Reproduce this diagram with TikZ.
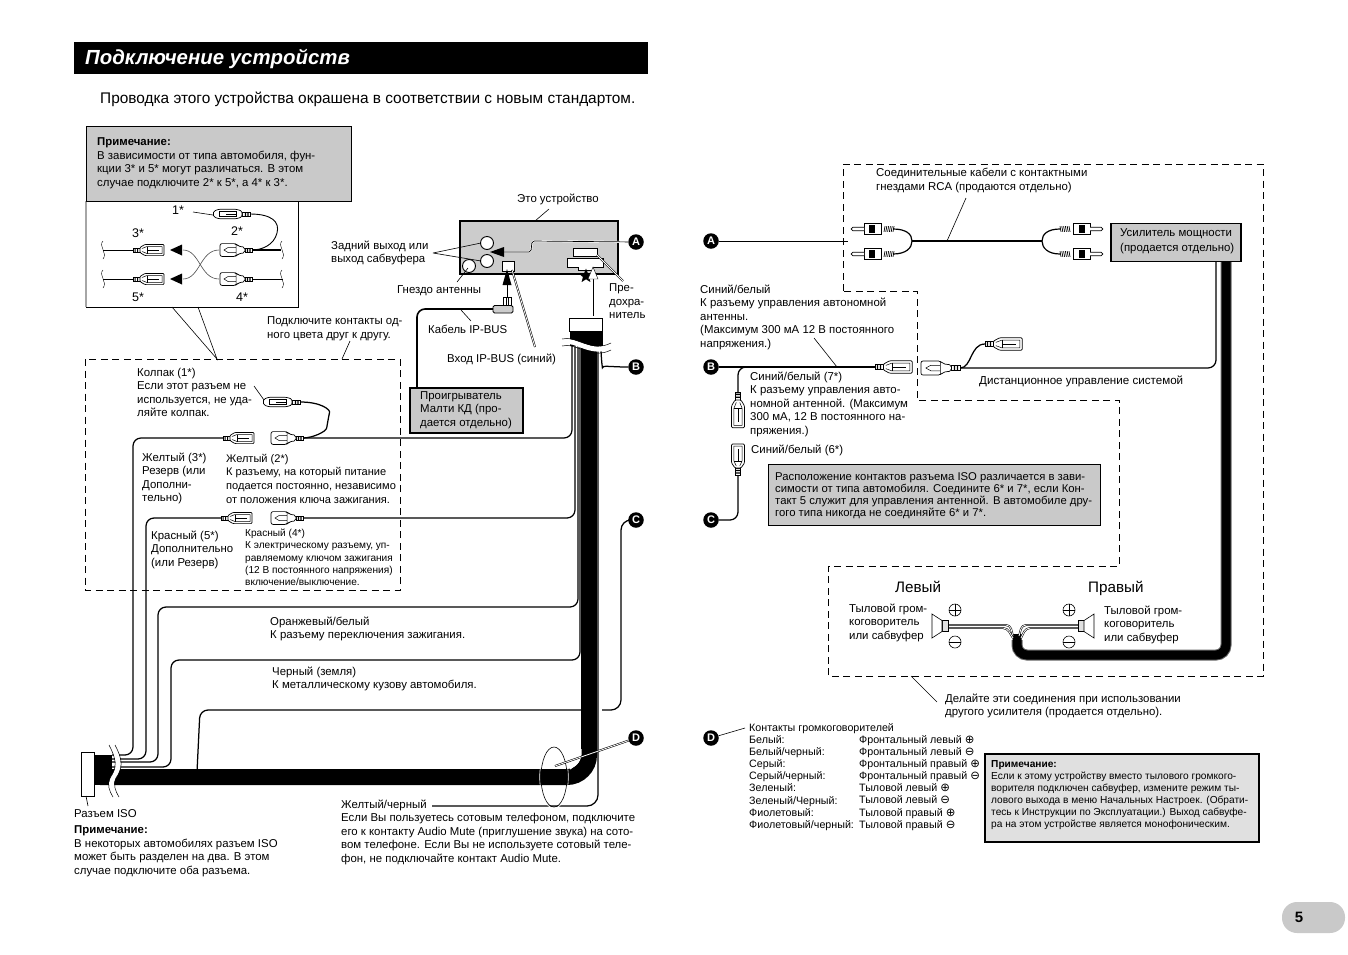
\documentclass[tikz,border=0pt]{standalone}
\usepackage{fontspec}
\setmainfont{Liberation Sans}
\newfontfamily\djv{DejaVu Sans}
\usetikzlibrary{shapes.geometric}
\definecolor{boxgray}{gray}{0.79}
\definecolor{devgray}{gray}{0.80}
\newcommand\Pl{{\djv\fontsize{11.5}{9}\selectfont ⊕}}
\newcommand\Mi{{\djv\fontsize{11.5}{9}\selectfont ⊖}}
\tikzset{
 tm/.style={anchor=north west,align=left,inner sep=0pt,yshift=4.2pt,execute at begin node=\strut,font=\fontsize{11.4}{13.4}\selectfont},
 ts/.style={anchor=north west,align=left,inner sep=0pt,yshift=4pt,execute at begin node=\strut,font=\fontsize{10.1}{12.2}\selectfont},
 thinl/.style={line width=.6pt},
 wire/.style={line width=1.25pt,rounded corners=8pt},
 wireth/.style={line width=1.7pt,rounded corners=8pt},
 dash box/.style={line width=.7pt,dash pattern=on 7pt off 4.5pt},
 halo/.style={double=white,double distance=.8pt,line width=.55pt},
 badge/.style={circle,fill=black,text=white,minimum size=15.5pt,inner sep=0pt,font=\bfseries\fontsize{11}{11}\selectfont},
 signc/.style={circle,draw,line width=.6pt,minimum size=12pt,inner sep=0pt},
 fplug/.pic={
  \draw[line width=.7pt,fill=white] (0,-2) rectangle (7,2);
  \fill (1.5,-2) rectangle (2.6,2) (4,-2) rectangle (5.1,2);
  \draw[line width=.7pt,fill=white,rounded corners=1pt] (7,-2.6)--(12,-5.6)--(31,-5.6)--(31,5.6)--(12,5.6)--(7,2.6)--cycle;
  \draw[line width=.5pt] (9,-1.5)--(14,-3.5)--(29,-3.5)--(29,3.5)--(14,3.5)--(9,1.5);
  \draw[line width=.5pt] (14,-3.5)--(14,3.5) (14,0)--(26,0);
 },
 mplug/.pic={
  \draw[line width=.7pt,fill=white] (0,-2) rectangle (7,2);
  \fill (1.5,-2) rectangle (2.6,2) (4,-2) rectangle (5.1,2);
  \draw[line width=.7pt,fill=white,rounded corners=2pt] (7,-2.8)--(14,-3.8)--(16,-6.4)--(32,-6.4)--(32,6.4)--(16,6.4)--(14,3.8)--(7,2.8)--cycle;
  \draw[line width=.5pt] (16,-2.5)--(24,-2.5)--(28,0)--(24,2.5)--(16,2.5) (16,-6)--(16,6);
 },
 capplug/.pic={
  \draw[line width=.7pt,fill=white] (0,-2) rectangle (8,2);
  \fill (1.5,-2) rectangle (2.6,2) (4,-2) rectangle (5.1,2);
  \draw[line width=.7pt,fill=white,rounded corners=1.5pt] (8,-3)--(14,-4.8)--(31,-4.8)--(36,-3)--(37,0)--(36,3)--(31,4.8)--(14,4.8)--(8,3)--cycle;
  \draw[line width=.5pt] (14,-2.6)--(31,-2.6)--(31,2.6)--(14,2.6)--cycle (14,0)--(24,0);
 },
 rca/.pic={
  \foreach \q in {0,1.8,3.6,5.4,7.2,9}{\draw[line width=.7pt] (\q,-2.8)--(\q+1,2.8);}
  \draw[line width=.7pt,fill=white] (13,-5.6) rectangle (30,5.6);
  \fill (19,-3.6) rectangle (25,3.6);
  \draw[line width=.7pt,fill=white] (30,-1.8)--(41,-1.8) arc[start angle=90,end angle=-90,radius=1.8pt]--(30,1.8);
 },
 spk/.pic={
  \draw[line width=.6pt,fill=devgray!60] (0,-5.5) rectangle (6,5.5);
  \draw[line width=.6pt,fill=white] (6,-5.5)--(16,-12)--(16,12)--(6,5.5)--cycle;
 }
}
\begin{document}
\begin{tikzpicture}[x=1pt,y=-1pt]
\useasboundingbox (0,0) rectangle (1348,954);
\fill[white] (0,0) rectangle (1348,954);
% ---- header
\fill[black] (74,42) rectangle (648,74);
\node[anchor=west,inner sep=0pt,text=white,font=\bfseries\itshape\fontsize{20.4}{20}\selectfont] (title) at (85,58.5) {Подключение устройств};
\node[anchor=west,inner sep=0pt,font=\fontsize{15.4}{16}\selectfont] (sub) at (100,99) {Проводка этого устройства окрашена в соответствии с новым стандартом.};
% ---- inset
\draw[thinl,fill=white] (86,201) rectangle (298,307);
\draw[line width=1.2pt,black!35] (86,201)--(86,307);
\draw[thinl,fill=boxgray] (86,126) rectangle (351,201);
\node[tm] (note1) at (97,142) {\textbf{Примечание:}\\В зависимости от типа автомобиля, фун-\\кции 3* и 5* могут различаться. В этом\\случае подключите 2* к 5*, а 4* к 3*.};
\coordinate (callA) at (217,359);
\draw[thinl] (172,307)--(callA)--(198,307);
\node[tm,font=\fontsize{12.5}{13.4}\selectfont] (n1s) at (172,209) {1*};
\node[tm,font=\fontsize{12.5}{13.4}\selectfont] (n2s) at (231,230) {2*};
\node[tm,font=\fontsize{12.5}{13.4}\selectfont] (n3s) at (132,232) {3*};
\node[tm,font=\fontsize{12.5}{13.4}\selectfont] (n5s) at (132,296) {5*};
\node[tm,font=\fontsize{12.5}{13.4}\selectfont] (n4s) at (236,296) {4*};
\draw[thinl] (193,212)--(213,215);
\draw[line width=.9pt] (250,214) .. controls (272,214) and (280,222) .. (277,233) .. controls (274,245) and (262,250) .. (252,250);
\draw[line width=1.5pt] (252,250)--(281,250);
\draw[line width=.9pt] (252,279)--(283,279);
\draw[line width=.9pt] (103,250)--(133,250) (103,279)--(133,279);
\pic[xscale=-1] at (250,214) {capplug};
\pic at (133,250) {fplug};
\pic at (133,279) {fplug};
\pic[xscale=-1] at (252,250) {mplug};
\pic[xscale=-1] at (252,279) {mplug};
\fill (170,250)--(182,244.5)--(182,255.5)--cycle;
\fill (170,279)--(182,273.5)--(182,284.5)--cycle;
\draw[line width=.6pt,black!70] (183,250) .. controls (200,250) and (200,279) .. (219,279);
\draw[line width=.6pt,black!70] (183,279) .. controls (200,279) and (200,250) .. (219,250);
\foreach \xx/\yy in {103/250,103/279,282/250,282/279}{
 \draw[line width=.4pt] (\xx,\yy-9) .. controls (\xx-5,\yy-4) and (\xx+5,\yy+3) .. (\xx,\yy+9);}
% ---- device
\node[tm] (dev) at (517,197) {Это устройство};
\draw[thinl] (549,209)--(535,221);
\draw[line width=1.4pt,fill=devgray] (460,221)--(618,221)--(618,274)--(460,274)--cycle;
\draw[line width=2.6pt] (460,274)--(618,274);
\draw[line width=.9pt,fill=white] (487,243) circle (6.5pt);
\draw[line width=.9pt,fill=white] (487,261) circle (6.5pt);
\draw[line width=.9pt,fill=white] (469,266) circle (6.5pt);
\draw[line width=.9pt,fill=white] (502,261) rectangle (514,271);
\draw[line width=.8pt,fill=white] (573,248) rectangle (597,256);
\draw[line width=.8pt,fill=white] (567,258)--(603,258)--(603,267)--(593,267)--(593,270)--(578,270)--(578,267)--(567,267)--cycle;
\node[badge] (A1) at (636,242) {A};
\node[badge] (B1) at (636,367) {B};
\node[badge] (C1) at (636,520) {C};
\node[badge] (D1) at (636,738) {D};
\coordinate (aIn) at (503,252);
\draw[line width=1.9pt,white,rounded corners=2pt] (A1)--(532,241)--(531,252)--(aIn);
\draw[line width=.7pt,rounded corners=2pt] (A1)--(532,241)--(531,252)--(aIn);
\fill (490,252)--(504,247)--(504,257)--cycle;
\node[tm] (rear) at (331,245) {Задний выход или\\выход сабвуфера};
\draw[thinl] (433,253)--(481,243) (433,253)--(481,261);
\node[tm] (ant) at (397,288) {Гнездо антенны};
\draw[thinl] (457,282)--(468,268);
\node[tm] (fuse) at (609,288) {Пре-\\дохра-\\нитель};
\draw[halo] (623,281)--(597,255);
\node[tm] (ipin) at (447,357) {Вход IP-BUS (синий)};
\draw[halo] (535,347)--(512,270);
\draw[thinl] (507,297)--(507,282);
\fill (507,269)--(511.5,285)--(502.5,285)--cycle;
\node[star,star points=5,star point ratio=2.3,fill=black,minimum size=15pt,inner sep=0pt] (st) at (586,276) {};
\draw[thinl] (593,316)--(593,277);
\draw[line width=.4pt,fill=white] (593,267)--(598,279)--(588,279)--cycle;
% IP-BUS plug and cable
\draw[line width=.8pt,fill=white] (503,297) rectangle (511,306);
\draw[line width=.3pt] (506,297)--(506,306) (508,297)--(508,306);
\draw[line width=.8pt,fill=devgray,rounded corners=1.5pt] (493,305.5)--(513,305.5)--(513,313)--(493,313)--cycle;
\node[tm] (cab) at (428,328) {Кабель IP-BUS};
\draw[thinl] (471,321)--(461,310);
\node[draw,line width=2pt,fill=boxgray,minimum width=113pt,minimum height=45pt,anchor=north west,inner sep=0pt] (cd) at (409,387) {};
\node[tm] (cdt) at (420,395.5) {Проигрыватель\\Малти КД (про-\\дается отдельно)};
\coordinate (cdIn) at (417,387);
\draw[line width=1.6pt,rounded corners=8pt] (493,309)--(417,309)--(cdIn);
% ---- left texts
\node[tm] (same) at (267,321) {Подключите контакты од-\\ного цвета друг к другу.};
\draw[thinl] (350,341)--(342,359);
\draw[dash box] (85,359) rectangle (400,590);
\node[tm] (capt) at (137,372) {Колпак (1*)\\Если этот разъем не\\используется, не уда-\\ляйте колпак.};
\draw[thinl] (254,386)--(264,400);
\node[tm] (y3) at (142,457) {Желтый (3*)\\Резерв (или\\Дополни-\\тельно)};
\node[tm,font=\fontsize{11.05}{13.7}\selectfont] (y2) at (226,458) {Желтый (2*)\\К разъему, на который питание\\подается постоянно, независимо\\от положения ключа зажигания.};
\node[tm] (r5) at (151,535) {Красный (5*)\\Дополнительно\\(или Резерв)};
\node[ts] (r4) at (245,533) {Красный (4*)\\К электрическому разъему, уп-\\равляемому ключом зажигания\\(12 В постоянного напряжения)\\включение/выключение.};
\node[tm] (or) at (270,621) {Оранжевый/белый\\К разъему переключения зажигания.};
\node[tm] (bl) at (272,671) {Черный (земля)\\К металлическому кузову автомобиля.};
\node[tm] (isol) at (74,812) {Разъем ISO};
\node[tm] (ison) at (74,830) {\textbf{Примечание:}\\В некоторых автомобилях разъем ISO\\может быть разделен на два. В этом\\случае подключите оба разъема.};
\node[tm] (ybt) at (341,804) {Желтый/черный\\Если Вы пользуетесь сотовым телефоном, подключите\\его к контакту Audio Mute (приглушение звука) на сото-\\вом телефоне. Если Вы не используете сотовый теле-\\фон, не подключайте контакт Audio Mute.};
% ---- left wires
\draw[wire] (300,402) .. controls (322,402) and (330,410) .. (328,420) .. controls (326,432) and (312,438) .. (303,438);
\draw[wire] (303,438)--(572,438)--(572,340);
\draw[wire] (302,518)--(575,518)--(575,340);
\draw[wire] (223,438)--(133,438)--(133,755)--(112,755);
\draw[wire] (222,518)--(146,518)--(146,759)--(112,759);
\draw[wire] (578,340)--(578,607)--(158,607)--(158,762)--(112,762);
\draw[wire] (580,340)--(580,660)--(171,660)--(171,767)--(112,767);
\draw[wire] (585,710)--(200,710)--(197,772);
\draw[wire,rounded corners=10pt] (602,710)--(621,710)--(621,520)--(C1);
\pic[xscale=-1] at (300,402) {capplug};
\pic[xscale=-1] at (303,438) {mplug};
\pic at (223,438) {fplug};
\pic at (221,518) {fplug};
\pic[xscale=-1] at (303,518) {mplug};
% harness
\draw[line width=16pt,rounded corners=22pt] (100,777)--(589,777)--(589,340);
\fill (570,326) rectangle (603,346);
\fill (94,755) rectangle (112,785);
\draw[wire,rounded corners=11pt] (432,806)--(598,806)--(598,345);
\draw[wire,rounded corners=10pt] (601,342)--(601,358) .. controls (602,365) and (610,367) .. (B1);
% breaks
\draw[white,line width=5pt] (564,342) .. controls (575,338) and (592,356) .. (610,346);
\draw[line width=.5pt] (562,339) .. controls (575,335) and (592,353) .. (611,343);
\draw[line width=.5pt] (562,346) .. controls (575,342) and (592,360) .. (611,350);
\draw[white,line width=5pt] (112,745) .. controls (120,760) and (120,768) .. (113,778) .. controls (110,785) and (112,790) .. (116,797);
\draw[line width=.5pt] (109,745) .. controls (117,760) and (117,768) .. (110,778) .. controls (107,785) and (109,790) .. (113,797);
\draw[line width=.5pt] (115,745) .. controls (123,760) and (123,768) .. (116,778) .. controls (113,785) and (115,790) .. (119,797);
\draw[line width=.8pt,fill=white] (569,318) rectangle (602,331);
\draw[line width=1pt,fill=white] (81,752) rectangle (94,796);
\draw[thinl] (86,796)--(88,806);
\draw[white,line width=1.2pt,rounded corners=6pt] (581,749)--(581,760)--(570,769);
\draw[line width=.6pt,white] (554,777) ellipse (14.3pt and 31.3pt);
\draw[line width=.6pt] (554,777) ellipse (13pt and 30pt);
\draw[halo] (555,766)--(D1);
% ---- right part
\draw[dash box] (843,291)--(843,164)--(1263,164)--(1263,676)--(828,676)--(828,566)--(1119,566)--(1119,400)--(917,400)--(917,291)--cycle;
\node[tm,font=\fontsize{11.4}{13.8}\selectfont] (rcat) at (876,172) {Соединительные кабели с контактными\\гнездами RCA (продаются отдельно)};
\draw[thinl] (966,198)--(947,241);
\node[badge] (A2) at (711,241) {A};
\node[badge] (B2) at (711,367) {B};
\node[badge] (C2) at (711,520) {C};
\node[badge] (D2) at (711,738) {D};
\coordinate (rcaL) at (848,241);
\draw[thinl] (A2)--(rcaL);
\draw[line width=2pt] (912,241)--(1042,241);
\draw[line width=1.2pt] (893,229) .. controls (906,229) and (912,234) .. (912,241) .. controls (912,248) and (906,254) .. (893,254);
\draw[line width=1.2pt] (1060,229) .. controls (1048,229) and (1042,234) .. (1042,241) .. controls (1042,248) and (1048,254) .. (1060,254);
\pic[xscale=-1] at (894,229) {rca};
\pic[xscale=-1] at (894,254) {rca};
\pic at (1060,229) {rca};
\pic at (1060,254) {rca};
\node[draw,line width=1.6pt,fill=boxgray,minimum width=130pt,minimum height=38pt,anchor=north west,inner sep=0pt] (amp) at (1110,222.5) {};
\node[tm,font=\fontsize{11.4}{14.6}\selectfont] (ampt) at (1120,233) {Усилитель мощности\\(продается отдельно)};
\node[tm] (abt) at (700,289) {Синий/белый\\К разъему управления автономной\\антенны.\\(Максимум 300 мА 12 В постоянного\\напряжения.)};
\draw[thinl] (814,338)--(837,367);
\coordinate (bEnd) at (875,367);
\draw[wireth] (B2)--(bEnd);
\draw[wire] (747,367)--(738,367)--(738,392);
\pic[xscale=1.2,yscale=1.1] at (875,367) {fplug};
\pic[rotate=-90,xscale=1.15,yscale=1.15] at (738,392) {fplug};
\pic[rotate=90,yscale=1.15] at (738,475) {fplug};
\draw[wire] (738,475)--(738,520)--(C2);
\node[tm] (b7) at (750,376) {Синий/белый (7*)\\К разъему управления авто-\\номной антенной. (Максимум\\300 мА, 12 В постоянного на-\\пряжения.)};
\node[tm] (b6) at (751,448) {Синий/белый (6*)};
\node[draw=black,line width=.6pt,fill=boxgray,minimum width=332pt,minimum height=61pt,anchor=north west,inner sep=0pt] (isobox) at (768,464) {};
\node[ts,font=\fontsize{11.3}{12.2}\selectfont] (isot) at (775,476) {Расположение контактов разъема ISO различается в зави-\\симости от типа автомобиля. Соедините 6* и 7*, если Кон-\\такт 5 служит для управления антенной. В автомобиле дру-\\гого типа никогда не соединяйте 6* и 7*.};
% remote
\draw[wire] (1216,261)--(1216,368)--(960,368);
\draw[wire] (960,368) .. controls (972,368) and (970,344) .. (985,344);
\pic[xscale=-1.22,yscale=1.1] at (960,368) {mplug};
\pic[xscale=1.2,yscale=1.1] at (985,344) {fplug};
\node[tm,font=\fontsize{11.6}{13.4}\selectfont] (remt) at (979,379) {Дистанционное управление системой};
% speakers
\draw[line width=11pt,black!60,rounded corners=10pt] (1226,262)--(1226,655)--(1017,655)--(1017,640);
\draw[line width=9pt,rounded corners=10pt] (1226,262)--(1226,655)--(1017,655)--(1017,634);
\draw[halo,rounded corners=4pt] (948,625)--(1010,625)--(1013,636);
\draw[halo,rounded corners=4pt] (948,628)--(1007,628)--(1013,638);
\draw[halo,rounded corners=4pt] (1078,625)--(1022,625)--(1019,636);
\draw[halo,rounded corners=4pt] (1078,628)--(1026,628)--(1021,638);
\pic[xscale=-1] at (948,626) {spk};
\pic at (1078,626) {spk};
\node[signc] (lp) at (955,610) {}; \draw[line width=.5pt] (lp.west)--(lp.east) (lp.north)--(lp.south);
\node[signc] (lm) at (955,642) {}; \draw[line width=.5pt] (lm.west)--(lm.east);
\node[signc] (rp) at (1069,610) {}; \draw[line width=.5pt] (rp.west)--(rp.east) (rp.north)--(rp.south);
\node[signc] (rm) at (1069,642) {}; \draw[line width=.5pt] (rm.west)--(rm.east);
\node[anchor=base west,inner sep=0pt,font=\fontsize{15.2}{15}\selectfont] (lft) at (895,592.5) {Левый};
\node[anchor=base west,inner sep=0pt,font=\fontsize{15.2}{15}\selectfont] (rgt) at (1088,592.5) {Правый};
\node[tm] (sl) at (849,608) {Тыловой гром-\\коговоритель\\или сабвуфер};
\node[tm] (sr) at (1104,610) {Тыловой гром-\\коговоритель\\или сабвуфер};
\draw[thinl] (911,676)--(937,702);
\node[tm] (mk) at (945,698) {Делайте эти соединения при использовании\\другого усилителя (продается отдельно).};
% D table
\coordinate (dEnd) at (745,728);
\draw[thinl] (D2)--(dEnd);
\node[ts,font=\fontsize{10.7}{12.15}\selectfont] (dt1) at (749,727) {Контакты громкоговорителей\\Белый:\\Белый/черный:\\Серый:\\Серый/черный:\\Зеленый:\\Зеленый/Черный:\\Фиолетовый:\\Фиолетовый/черный:};
\node[ts,font=\fontsize{10.7}{12.15}\selectfont] (dt2) at (859,739) {Фронтальный левый \Pl\\Фронтальный левый \Mi\\Фронтальный правый \Pl\\Фронтальный правый \Mi\\Тыловой левый \Pl\\Тыловой левый \Mi\\Тыловой правый \Pl\\Тыловой правый \Mi};
% note box
\node[draw,line width=1.6pt,fill=black!12,minimum width=274pt,minimum height=88pt,anchor=north west,inner sep=0pt] (nb) at (984,753) {};
\node[ts,font=\fontsize{10.15}{12.1}\selectfont] (nbt) at (991,764) {\textbf{Примечание:}\\Если к этому устройству вместо тылового громкого-\\ворителя подключен сабвуфер, измените режим ты-\\лового выхода в меню Начальных Настроек. (Обрати-\\тесь к Инструкции по Эксплуатации.) Выход сабвуфе-\\ра на этом устройстве является монофоническим.};
% page
\node[fill=boxgray,rounded corners=15pt,minimum width=63pt,minimum height=31pt,inner sep=0pt] (pg) at (1313.5,917.5) {};
\node[anchor=center,inner sep=0pt,font=\bfseries\fontsize{15}{15}\selectfont] (pgn) at (1299,917) {5};
\end{tikzpicture}
\end{document}
